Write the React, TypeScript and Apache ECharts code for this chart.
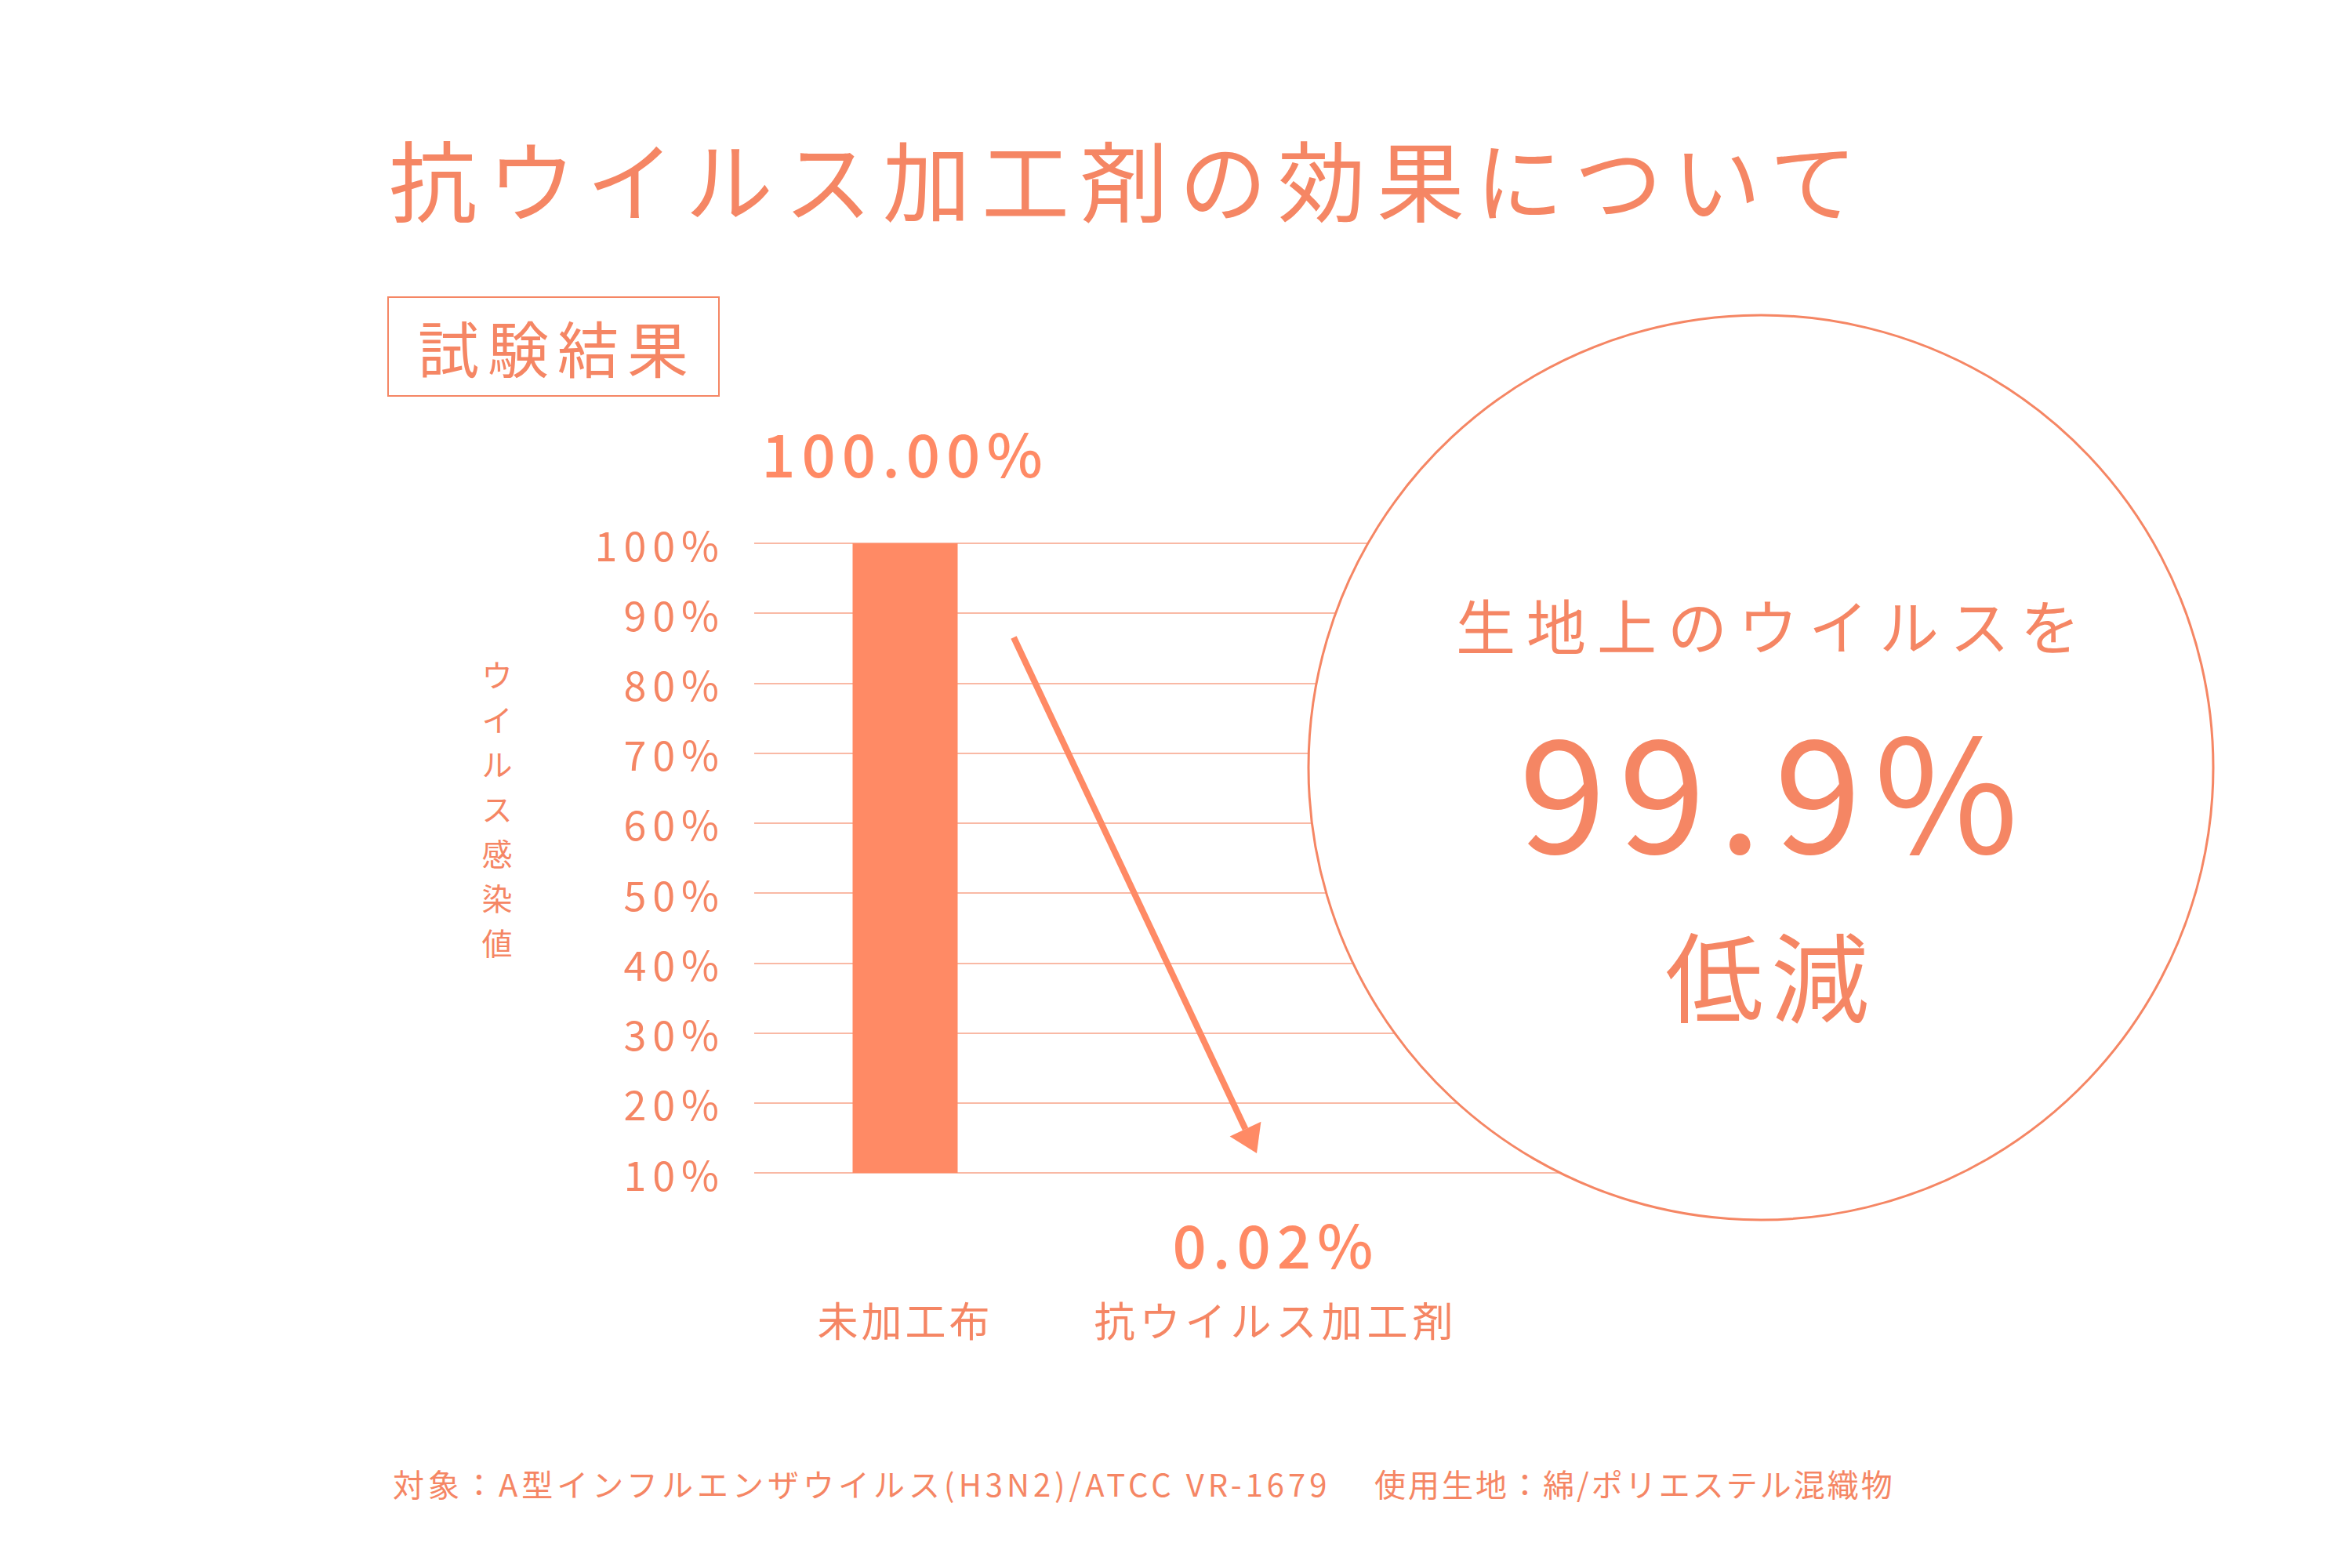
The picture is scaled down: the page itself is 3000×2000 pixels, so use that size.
import React, { useEffect, useRef } from 'react';
import * as echarts from 'echarts';

// ---------- data ----------
const titleText = '抗ウイルス加工剤の効果について';
const sectionLabel = '試験結果';
const categories = ['未加工布', '抗ウイルス加工剤'];
const infectionValues = [100, 0.02];
const yMin = 10;
const yMax = 100;
const yStep = 10;
const yAxisTitle = ['ウ', 'イ', 'ル', 'ス', '感', '染', '値'];
const calloutLead = '生地上のウイルスを';
const calloutValue = '99.9%';
const calloutTail = '低減';
const footnoteTarget = '対象：A型インフルエンザウイルス(H3N2)/ATCC VR-1679';
const footnoteFabric = '使用生地：綿/ポリエステル混織物';

// ---------- style ----------
const TEXT = '#F58664';
const BAR = '#FF8A65';
const GRIDLINE = '#F7A287';
const FONT = "'Noto Sans CJK JP', 'Noto Sans', sans-serif";

const spacingMap: Record<string, number> = {
  [titleText]: 14,
  [sectionLabel]: 11,
  [categories[0]]: 4,
  [categories[1]]: 6,
  [calloutLead]: 14,
  [calloutValue]: 16,
  [calloutTail]: 10,
  [footnoteTarget]: 5,
  [footnoteFabric]: 3,
};

function spacingFor(t: string): number | null {
  if (spacingMap[t] !== undefined) return spacingMap[t];
  if (/^\d+%$/.test(t)) return 8;
  if (/^\d+\.\d+%$/.test(t)) return 8;
  return null;
}

function applySpacing(root: HTMLElement) {
  root.querySelectorAll('text').forEach((el) => {
    const s = spacingFor((el.textContent || '').trim());
    if (s !== null) el.setAttribute('letter-spacing', s + 'px');
  });
}

export default function App() {
  const ref = useRef<HTMLDivElement>(null);

  useEffect(() => {
    if (!ref.current) return;
    const chart = echarts.init(ref.current, undefined, { renderer: 'svg', width: 3000, height: 2000 });

    // arrow geometry (decoration)
    const ax1 = 1293, ay1 = 813, ax2 = 1603, ay2 = 1471;
    const dx = ax2 - ax1, dy = ay2 - ay1;
    const len = Math.sqrt(dx * dx + dy * dy);
    const ux = dx / len, uy = dy / len;
    const headLen = 34, headHalf = 22;
    const bx = ax2 - ux * headLen, by = ay2 - uy * headLen;

    const option: any = {
      animation: false,
      backgroundColor: '#ffffff',
      title: {
        text: titleText,
        left: 491,
        top: 165,
        textStyle: { color: TEXT, fontSize: 112, fontWeight: 'normal', fontFamily: FONT, lineHeight: 112 },
      },
      grid: [
        { left: 962, top: 693, width: 1438, height: 803, containLabel: false },
        { left: 918, top: 693, width: 946, height: 803, containLabel: false },
      ],
      xAxis: [
        { gridIndex: 0, type: 'value', min: 0, max: 1, show: false },
        {
          gridIndex: 1,
          type: 'category',
          data: categories,
          axisLine: { show: false },
          axisTick: { show: false },
          axisLabel: { color: TEXT, fontSize: 52, fontFamily: FONT, margin: 160, interval: 0 },
        },
      ],
      yAxis: [
        {
          gridIndex: 0,
          type: 'value',
          min: yMin,
          max: yMax,
          interval: yStep,
          axisLine: { show: false },
          axisTick: { show: false },
          axisLabel: { formatter: '{value}%', color: TEXT, fontSize: 52, fontFamily: FONT, margin: 37 },
          splitLine: { show: true, lineStyle: { color: GRIDLINE, width: 1.5 } },
        },
        { gridIndex: 1, type: 'value', min: yMin, max: yMax, interval: yStep, show: false, splitLine: { show: false } },
      ],
      series: [
        {
          type: 'bar',
          xAxisIndex: 1,
          yAxisIndex: 1,
          data: infectionValues,
          barWidth: 134,
          itemStyle: { color: BAR },
          clip: true,
          z: 3,
        },
        {
          type: 'scatter',
          xAxisIndex: 1,
          yAxisIndex: 1,
          clip: false,
          symbolSize: 1,
          itemStyle: { color: 'rgba(0,0,0,0)' },
          silent: true,
          z: 4,
          data: infectionValues.map((v, i) => ({
            value: [i, v],
            label: {
              show: true,
              position: v >= yMin ? 'top' : 'inside',
              distance: 79,
              formatter: (p: any) => p.value[1].toFixed(2) + '%',
              color: BAR,
              opacity: 1,
              textBorderWidth: 0,
              fontSize: 76,
              fontWeight: 500,
              lineHeight: 76,
              fontFamily: FONT,
            },
          })),
        },
      ],
      graphic: [
        {
          type: 'rect',
          shape: { x: 495, y: 379, width: 422, height: 126 },
          style: { fill: 'none', stroke: TEXT, lineWidth: 2 },
          z: 5,
        },
        {
          type: 'text',
          x: 711,
          y: 442,
          style: { text: sectionLabel, fill: TEXT, font: `normal 78px ${FONT}`, textAlign: 'center', textVerticalAlign: 'middle' },
          z: 5,
        },
        {
          type: 'text',
          x: 634,
          y: 1030,
          style: {
            text: yAxisTitle.join('\n'),
            fill: TEXT,
            font: `normal 39px ${FONT}`,
            lineHeight: 57,
            textAlign: 'center',
            textVerticalAlign: 'middle',
          },
          z: 5,
        },
        {
          type: 'line',
          shape: { x1: ax1, y1: ay1, x2: bx, y2: by },
          style: { stroke: BAR, lineWidth: 8 },
          z: 6,
        },
        {
          type: 'polygon',
          shape: {
            points: [
              [ax2, ay2],
              [bx - uy * headHalf, by + ux * headHalf],
              [bx + uy * headHalf, by - ux * headHalf],
            ],
          },
          style: { fill: BAR },
          z: 6,
        },
        {
          type: 'circle',
          shape: { cx: 2246, cy: 979, r: 577 },
          style: { fill: '#ffffff', stroke: TEXT, lineWidth: 3 },
          z: 10,
        },
        {
          type: 'text',
          x: 2262,
          y: 796,
          style: { text: calloutLead, fill: TEXT, font: `normal 76px ${FONT}`, textAlign: 'center', textVerticalAlign: 'middle' },
          z: 11,
        },
        {
          type: 'text',
          x: 2264,
          y: 1001,
          style: { text: calloutValue, fill: TEXT, font: `normal 200px ${FONT}`, textAlign: 'center', textVerticalAlign: 'middle' },
          z: 11,
        },
        {
          type: 'text',
          x: 2259,
          y: 1240,
          style: { text: calloutTail, fill: TEXT, font: `normal 125px ${FONT}`, textAlign: 'center', textVerticalAlign: 'middle' },
          z: 11,
        },
        {
          type: 'text',
          x: 501,
          y: 1892,
          style: { text: footnoteTarget, fill: TEXT, font: `normal 40px ${FONT}`, textAlign: 'left', textVerticalAlign: 'middle' },
          z: 5,
        },
        {
          type: 'text',
          x: 1753,
          y: 1892,
          style: { text: footnoteFabric, fill: TEXT, font: `normal 40px ${FONT}`, textAlign: 'left', textVerticalAlign: 'middle' },
          z: 5,
        },
      ],
    };

    chart.setOption(option);
    applySpacing(ref.current);
    const onFinished = () => ref.current && applySpacing(ref.current);
    chart.on('finished', onFinished);
    const raf = requestAnimationFrame(onFinished);
    const t = setTimeout(onFinished, 50);

    return () => {
      cancelAnimationFrame(raf);
      clearTimeout(t);
      chart.off('finished', onFinished);
      chart.dispose();
    };
  }, []);

  return (
    <div
      ref={ref}
      style={{ position: 'absolute', left: 0, top: 0, width: 3000, height: 2000, background: '#ffffff' }}
    />
  );
}
